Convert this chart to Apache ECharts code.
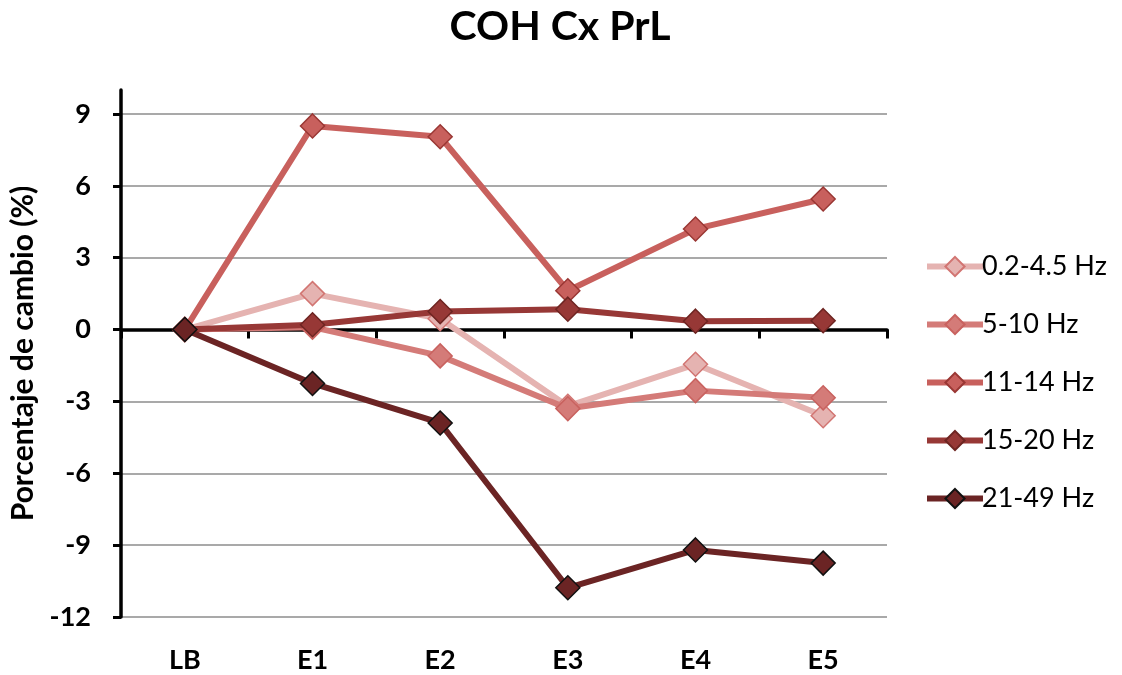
<!DOCTYPE html>
<html>
<head>
<meta charset="utf-8">
<script src="https://cdn.jsdelivr.net/npm/echarts@6/dist/echarts.min.js"></script>
<style>html,body{margin:0;padding:0;background:#fff}#c{width:1122px;height:675px}</style>
</head>
<body>
<div id="c"></div>
<script>
const categories = ['LB', 'E1', 'E2', 'E3', 'E4', 'E5'];
const seriesNames = ['0.2-4.5 Hz', '5-10 Hz', '11-14 Hz', '15-20 Hz', '21-49 Hz'];
const s_0_2_4_5 = [0, 1.5, 0.45, -3.2, -1.45, -3.6];
const s_5_10 = [0, 0.1, -1.1, -3.3, -2.55, -2.85];
const s_11_14 = [0, 8.5, 8.05, 1.62, 4.2, 5.45];
const s_15_20 = [0, 0.2, 0.75, 0.85, 0.35, 0.37];
const s_21_49 = [0, -2.25, -3.9, -10.78, -9.2, -9.75];
const yTicks = [-12, -9, -6, -3, 0, 3, 6, 9];

const values = [s_0_2_4_5, s_5_10, s_11_14, s_15_20, s_21_49];
const lineColors = ['#e5b3b1', '#d47b78', '#c8605d', '#973836', '#6b2424'];
const borderColors = ['#d27572', '#c9625f', '#9a3734', '#6e2522', '#111111'];

const FONT = 'Lato, "Open Sans", sans-serif';

const chart = echarts.init(document.getElementById('c'));
chart.setOption({
  animation: false,
  title: {
    text: 'COH Cx PrL',
    left: 555, top: 1, textAlign: 'center',
    textStyle: { fontFamily: FONT, fontWeight: 'bold', fontSize: 41, color: '#000' }
  },
  grid: { left: 121, right: 235, top: 90, bottom: 58, containLabel: false, outerBoundsMode: 'none' },
  legend: {
    orient: 'vertical',
    left: 924, top: 253, padding: 0,
    itemWidth: 56, itemHeight: 24, itemGap: 31,
    textStyle: { fontFamily: FONT, fontSize: 27, color: '#000', padding: [0, 0, 0, -6] },
    lineStyle: { width: 6 },
    data: seriesNames
  },
  xAxis: [
    {
      type: 'category', data: categories, boundaryGap: true,
      axisLine: { onZero: true, lineStyle: { color: '#000', width: 3.5 } },
      axisTick: { show: true, inside: false, length: 9, lineStyle: { color: '#000', width: 3 } },
      axisLabel: { show: false }
    },
    {
      type: 'category', data: categories, boundaryGap: true, position: 'bottom',
      axisLine: { show: false, onZero: false },
      axisTick: { show: false },
      axisLabel: { margin: 30, fontFamily: FONT, fontWeight: 'bold', fontSize: 27, color: '#000' }
    }
  ],
  yAxis: {
    type: 'value', min: -12, max: 10, interval: 3,
    name: 'Porcentaje de cambio (%)',
    nameLocation: 'middle', nameRotate: 90, nameGap: 82,
    nameTextStyle: { fontFamily: FONT, fontWeight: 'bold', fontSize: 30, color: '#000' },
    axisLine: { show: true, lineStyle: { color: '#000', width: 3.5 } },
    axisTick: { show: true, inside: false, length: 8, lineStyle: { color: '#000', width: 3 }, customValues: yTicks },
    axisLabel: { margin: 30, fontFamily: FONT, fontWeight: 'bold', fontSize: 27, color: '#000', customValues: yTicks },
    splitLine: { show: true, lineStyle: { color: ['#8c8c8c','#8c8c8c','#8c8c8c','#8c8c8c','#8c8c8c','#8c8c8c','#8c8c8c','#8c8c8c','rgba(0,0,0,0)'], width: 1.5 } }
  },
  series: seriesNames.map((name, i) => ({
    name, type: 'line', xAxisIndex: 0, data: values[i],
    symbol: 'diamond', symbolSize: 24,
    lineStyle: { color: lineColors[i], width: 6 },
    itemStyle: { color: lineColors[i], borderColor: borderColors[i], borderWidth: 1.5 },
    z: 2 + i
  }))
});
</script>
</body>
</html>
